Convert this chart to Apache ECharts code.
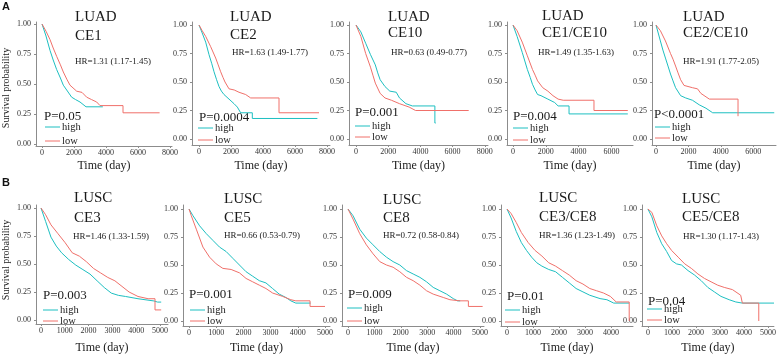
<!DOCTYPE html>
<html>
<head>
<meta charset="utf-8">
<script src="https://cdn.jsdelivr.net/npm/echarts@6/dist/echarts.min.js"></script>
<style>
html,body{margin:0;padding:0;background:#fff}
#board{width:779px;height:356px}
</style>
</head>
<body>
<div id="board"></div>
<script>
// Kaplan-Meier curves: [time (day), survival probability]
// (repeated times mark the vertical drops of the sparse tails)
let luadCE1High = [[0,1],[250,0.9],[500,0.78],[700,0.7],[917,0.62],[1150,0.55],[1333,0.49],[1542,0.45],[1854,0.39],[2100,0.37],[2375,0.35],[2750,0.31],[3800,0.31]]
let luadCE1Low = [[0,1],[250,0.94],[500,0.87],[700,0.8],[917,0.73],[1150,0.66],[1333,0.6],[1550,0.54],[1750,0.49],[2000,0.46],[2167,0.44],[2500,0.43],[2792,0.39],[3100,0.37],[3417,0.35],[3625,0.32],[5063,0.32],[5063,0.26],[7350,0.26]]
let luadCE2High = [[0,1],[200,0.93],[417,0.85],[625,0.74],[800,0.66],[938,0.59],[1100,0.52],[1250,0.46],[1400,0.42],[1563,0.39],[1875,0.35],[2188,0.31],[2396,0.28],[2604,0.23],[3333,0.23],[3333,0.18],[7400,0.18]]
let luadCE2Low = [[0,1],[200,0.95],[417,0.9],[729,0.81],[1042,0.71],[1200,0.65],[1354,0.59],[1500,0.54],[1625,0.5],[1875,0.44],[2200,0.43],[2500,0.41],[2917,0.39],[3229,0.36],[5000,0.36],[5000,0.23],[7500,0.23]]
let luadCE10High = [[0,1],[300,0.94],[600,0.84],[900,0.74],[1200,0.65],[1350,0.58],[1500,0.52],[1800,0.46],[2100,0.42],[2500,0.41],[2700,0.36],[3100,0.31],[3500,0.29],[4900,0.29],[4900,0.14],[4950,0.14]]
let luadCE10Low = [[0,1],[300,0.9],[600,0.75],[900,0.63],[1050,0.56],[1200,0.49],[1500,0.4],[1800,0.36],[2200,0.34],[2700,0.31],[3300,0.28],[3700,0.25],[7000,0.25]]
let luadCE1CE10High = [[0,1],[250,0.9],[563,0.76],[875,0.61],[1050,0.54],[1188,0.48],[1350,0.43],[1500,0.39],[1708,0.38],[2125,0.35],[2540,0.32],[2750,0.29],[3417,0.29],[3417,0.22],[7000,0.22]]
let luadCE1CE10Low = [[0,1],[250,0.95],[563,0.85],[875,0.73],[1188,0.61],[1350,0.56],[1500,0.51],[1813,0.45],[2125,0.42],[2438,0.38],[2750,0.35],[3063,0.34],[4938,0.34],[4938,0.25],[7000,0.25]]
let luadCE2CE10High = [[0,1],[271,0.86],[427,0.78],[583,0.71],[740,0.64],[896,0.57],[1050,0.51],[1208,0.45],[1521,0.38],[1833,0.36],[2250,0.34],[2667,0.3],[3083,0.27],[3500,0.23],[7300,0.23]]
let luadCE2CE10Low = [[0,1],[271,0.95],[583,0.86],[896,0.75],[1050,0.7],[1208,0.64],[1360,0.58],[1521,0.52],[1729,0.47],[2250,0.45],[2563,0.44],[2771,0.4],[3292,0.35],[5063,0.35],[5063,0.2]]

let luscCE3High = [[0,1],[194,0.88],[418,0.74],[642,0.66],[866,0.6],[1164,0.54],[1463,0.49],[1761,0.45],[2060,0.41],[2358,0.35],[2657,0.29],[2955,0.24],[3254,0.22],[3552,0.21],[4075,0.19],[4746,0.17],[4900,0.16],[5050,0.16]]
let luscCE3Low = [[0,1],[194,0.94],[418,0.85],[716,0.77],[1015,0.69],[1313,0.6],[1612,0.57],[1910,0.52],[2209,0.46],[2507,0.42],[2806,0.38],[3104,0.35],[3403,0.3],[3701,0.25],[4075,0.21],[4500,0.19],[4790,0.19],[4790,0.09],[5050,0.09]]
let luscCE5High = [[0,1],[146,0.94],[390,0.85],[634,0.78],[878,0.72],[1122,0.66],[1366,0.62],[1610,0.56],[1854,0.5],[2098,0.44],[2341,0.4],[2585,0.36],[2829,0.34],[3073,0.29],[3317,0.24],[3561,0.21],[3744,0.18],[3927,0.16],[4470,0.16]]
let luscCE5Low = [[0,1],[85,0.94],[268,0.82],[512,0.66],[756,0.57],[1000,0.51],[1244,0.47],[1549,0.46],[1854,0.43],[2098,0.38],[2341,0.35],[2585,0.32],[2829,0.29],[3073,0.25],[3439,0.22],[3744,0.19],[3927,0.18],[4450,0.18],[4450,0.13],[5000,0.13]]
let luscCE8High = [[0,1],[190,0.94],[443,0.82],[696,0.74],[949,0.68],[1203,0.62],[1456,0.57],[1709,0.53],[1962,0.5],[2215,0.45],[2468,0.42],[2722,0.39],[2975,0.35],[3228,0.3],[3481,0.27],[3734,0.24],[3987,0.2],[4150,0.18],[4250,0.18]]
let luscCE8Low = [[0,1],[190,0.91],[443,0.78],[696,0.68],[949,0.6],[1203,0.53],[1456,0.5],[1709,0.48],[1962,0.44],[2215,0.39],[2468,0.36],[2722,0.32],[2975,0.27],[3228,0.24],[3608,0.21],[3861,0.19],[4241,0.18],[4560,0.18],[4560,0.13],[5100,0.13]]
let luscCE3CE8High = [[0,1],[158,0.92],[355,0.8],[553,0.7],[750,0.63],[947,0.57],[1145,0.52],[1342,0.49],[1605,0.46],[1868,0.44],[2132,0.39],[2395,0.34],[2658,0.29],[2921,0.26],[3184,0.23],[3579,0.2],[3842,0.19],[4105,0.16],[4700,0.16]]
let luscCE3CE8Low = [[0,1],[158,0.96],[355,0.88],[553,0.79],[816,0.7],[1079,0.63],[1342,0.58],[1605,0.52],[1868,0.49],[2132,0.45],[2395,0.41],[2658,0.36],[2921,0.33],[3184,0.29],[3447,0.27],[3711,0.25],[3974,0.22],[4200,0.17],[4700,0.17],[4700,0.0]]
let luscCE5CE8High = [[0,1],[164,0.93],[370,0.79],[575,0.69],[781,0.62],[986,0.54],[1192,0.51],[1397,0.5],[1671,0.45],[1945,0.41],[2219,0.36],[2493,0.3],[2767,0.26],[3041,0.22],[3384,0.19],[3658,0.17],[3932,0.16],[5250,0.16]]
let luscCE5CE8Low = [[0,1],[164,0.97],[370,0.85],[575,0.76],[781,0.69],[986,0.63],[1260,0.57],[1534,0.51],[1808,0.47],[2082,0.42],[2356,0.38],[2630,0.35],[2904,0.32],[3178,0.3],[3521,0.28],[3863,0.23],[3932,0.23],[3932,0.16],[4616,0.16],[4616,0.0]]

// tick labels
let yTicks = [0, 0.25, 0.5, 0.75, 1]
let ticks8000 = [0, 2000, 4000, 6000, 8000]
let ticks6000 = [0, 2000, 4000, 6000]
let ticks5000 = [0, 1000, 2000, 3000, 4000, 5000]
let ticks4000 = [0, 1000, 2000, 3000, 4000]

let panels = [
  {cohort:'LUAD', gene:'CE1', hr:'HR=1.31 (1.17-1.45)', p:'P=0.05', high:luadCE1High, low:luadCE1Low, xTicks:ticks8000},
  {cohort:'LUAD', gene:'CE2', hr:'HR=1.63 (1.49-1.77)', p:'P=0.0004', high:luadCE2High, low:luadCE2Low, xTicks:ticks8000},
  {cohort:'LUAD', gene:'CE10', hr:'HR=0.63 (0.49-0.77)', p:'P=0.001', high:luadCE10High, low:luadCE10Low, xTicks:ticks8000},
  {cohort:'LUAD', gene:'CE1/CE10', hr:'HR=1.49 (1.35-1.63)', p:'P=0.004', high:luadCE1CE10High, low:luadCE1CE10Low, xTicks:ticks6000},
  {cohort:'LUAD', gene:'CE2/CE10', hr:'HR=1.91 (1.77-2.05)', p:'P<0.0001', high:luadCE2CE10High, low:luadCE2CE10Low, xTicks:ticks6000},
  {cohort:'LUSC', gene:'CE3', hr:'HR=1.46 (1.33-1.59)', p:'P=0.003', high:luscCE3High, low:luscCE3Low, xTicks:ticks5000},
  {cohort:'LUSC', gene:'CE5', hr:'HR=0.66 (0.53-0.79)', p:'P=0.001', high:luscCE5High, low:luscCE5Low, xTicks:ticks5000},
  {cohort:'LUSC', gene:'CE8', hr:'HR=0.72 (0.58-0.84)', p:'P=0.009', high:luscCE8High, low:luscCE8Low, xTicks:ticks5000},
  {cohort:'LUSC', gene:'CE3/CE8', hr:'HR=1.36 (1.23-1.49)', p:'P=0.01', high:luscCE3CE8High, low:luscCE3CE8Low, xTicks:ticks4000},
  {cohort:'LUSC', gene:'CE5/CE8', hr:'HR=1.30 (1.17-1.43)', p:'P=0.04', high:luscCE5CE8High, low:luscCE5CE8Low, xTicks:ticks5000}
]

// where each panel sits on the page (px): axis lines, zero point, px per 1000 days, text anchors
let boxes = [
  {left:36, x0:42, ppk:16, right:172, top:22, y1:24, y0:144, bottom:146, nameGap:14, tX:75, tY1:17, tY2:36, hrX:75, hrY:62, pX:44, pY:117, lX:45, hY:127, lY:141},
  {left:192, x0:199, ppk:16, right:330, top:22, y1:25, y0:139, bottom:145, nameGap:15, tX:230, tY1:17, tY2:35, hrX:232, hrY:53, pX:199, pY:118, lX:198, hY:128, lY:140},
  {left:349, x0:356, ppk:16.1, right:488, top:22, y1:25, y0:139, bottom:145, nameGap:15, tX:388, tY1:17, tY2:33, hrX:391, hrY:53, pX:355, pY:113, lX:355, hY:126, lY:137},
  {left:507, x0:513, ppk:16.4, right:633, top:22, y1:25, y0:139, bottom:145, nameGap:15, tX:542, tY1:16, tY2:33, hrX:538, hrY:53, pX:513, pY:117, lX:513, hY:128, lY:140},
  {left:652, x0:656, ppk:16.2, right:776, top:22, y1:25, y0:139, bottom:145, nameGap:15, tX:683, tY1:17, tY2:33, hrX:683, hrY:62, pX:654, pY:115, lX:655, hY:127, lY:138},
  {left:36, x0:41, ppk:23.8, right:168, top:205, y1:208, y0:320, bottom:324, nameGap:18, tX:74, tY1:198, tY2:218, hrX:73, hrY:237, pX:43, pY:296, lX:43, hY:310, lY:321},
  {left:183, x0:189, ppk:27.2, right:330, top:205, y1:209, y0:321, bottom:326, nameGap:16, tX:224, tY1:199, tY2:218, hrX:224, hrY:236, pX:189, pY:295, lX:190, hY:310, lY:321},
  {left:342, x0:348, ppk:26.4, right:484, top:205, y1:209, y0:321, bottom:326, nameGap:16, tX:383, tY1:200, tY2:218, hrX:383, hrY:236, pX:348, pY:295, lX:347, hY:308, lY:321},
  {left:501, x0:507, ppk:26, right:633, top:205, y1:209, y0:321, bottom:326, nameGap:16, tX:539, tY1:198, tY2:217, hrX:539, hrY:236, pX:507, pY:297, lX:505, hY:310, lY:322},
  {left:642, x0:648, ppk:24.4, right:776, top:205, y1:209, y0:321, bottom:326, nameGap:16, tX:682, tY1:199, tY2:217, hrX:683, hrY:237, pX:648, pY:302, lX:647, hY:309, lY:320}
]

let serif = '"Liberation Serif", "Times New Roman", serif'
let teal = '#1DBFC1'
let red = '#F0706A'
let axisGrey = '#8c8c8c'

function txt(x, y, s, size, extra) {
  return Object.assign({
    type:'text', x:x, y:y, silent:true,
    style:{text:s, font:size + 'px ' + serif, fill:'#1a1a1a', align:'left', textAlign:'left', verticalAlign:'middle', textVerticalAlign:'middle'}
  }, extra || {})
}

let grid = [], xAxis = [], yAxis = [], series = [], graphic = []

panels.forEach((p, i) => {
  let b = boxes[i]
  let unit = b.y0 - b.y1
  grid.push({left:b.left, top:b.top, width:b.right - b.left, height:b.bottom - b.top})
  xAxis.push({
    type:'value', gridIndex:i,
    min:-(b.x0 - b.left) / b.ppk * 1000, max:(b.right - b.x0) / b.ppk * 1000,
    axisLine:{show:true, onZero:false, lineStyle:{color:axisGrey, width:1}},
    axisTick:{show:true, length:2, customValues:p.xTicks, lineStyle:{color:axisGrey}},
    axisLabel:{customValues:p.xTicks, fontSize:8, margin:3, color:'#333', fontFamily:serif,
      formatter:v => String(v)},
    splitLine:{show:false},
    name:'Time (day)', nameLocation:'middle', nameGap:b.nameGap,
    nameTextStyle:{fontSize:12, color:'#1a1a1a', fontFamily:serif}
  })
  yAxis.push({
    type:'value', gridIndex:i,
    min:-(b.bottom - b.y0) / unit, max:1 + (b.y1 - b.top) / unit,
    axisLine:{show:true, onZero:false, lineStyle:{color:axisGrey, width:1}},
    axisTick:{show:true, length:2, customValues:yTicks, lineStyle:{color:axisGrey}},
    axisLabel:{customValues:yTicks, fontSize:8, margin:5, color:'#333', fontFamily:serif,
      formatter:v => v.toFixed(2)},
    splitLine:{show:false}
  })
  series.push({
    type:'line', name:'high', xAxisIndex:i, yAxisIndex:i, data:p.high,
    showSymbol:false, silent:true, lineStyle:{color:teal, width:1}, itemStyle:{color:teal}
  })
  series.push({
    type:'line', name:'low', xAxisIndex:i, yAxisIndex:i, data:p.low,
    showSymbol:false, silent:true, lineStyle:{color:red, width:1}, itemStyle:{color:red}
  })

  graphic.push(txt(b.tX, b.tY1, p.cohort, 15))
  graphic.push(txt(b.tX, b.tY2, p.gene, 15))
  graphic.push(txt(b.hrX, b.hrY, p.hr, 9))
  graphic.push(txt(b.pX, b.pY, p.p, 13))
  graphic.push({type:'line', silent:true, shape:{x1:b.lX, y1:b.hY, x2:b.lX + 15, y2:b.hY}, style:{stroke:teal, lineWidth:1}})
  graphic.push({type:'line', silent:true, shape:{x1:b.lX, y1:b.lY, x2:b.lX + 15, y2:b.lY}, style:{stroke:red, lineWidth:1}})
  graphic.push(txt(b.lX + 17, b.hY, 'high', 10.5))
  graphic.push(txt(b.lX + 17, b.lY, 'low', 10.5))
})

// panel letters and shared y titles
let letterStyle = s => ({style:{text:s, font:'bold 11px "Liberation Sans", Arial, sans-serif', fill:'#111', verticalAlign:'middle', textVerticalAlign:'middle'}})
let yTitleStyle = {rotation:Math.PI / 2, style:{text:'Survival probability', font:'10px ' + serif, fill:'#1a1a1a', align:'center', textAlign:'center', verticalAlign:'middle', textVerticalAlign:'middle'}}
graphic.push(txt(2, 7, 'A', 11, letterStyle('A')))
graphic.push(txt(2, 183, 'B', 11, letterStyle('B')))
graphic.push(txt(6, 88, 'Survival probability', 10, yTitleStyle))
graphic.push(txt(6, 260, 'Survival probability', 10, yTitleStyle))

let myChart = echarts.init(document.getElementById('board'))
myChart.setOption({
  animation:false,
  backgroundColor:'#fff',
  grid:grid, xAxis:xAxis, yAxis:yAxis, series:series, graphic:graphic
})
</script>
</body>
</html>
